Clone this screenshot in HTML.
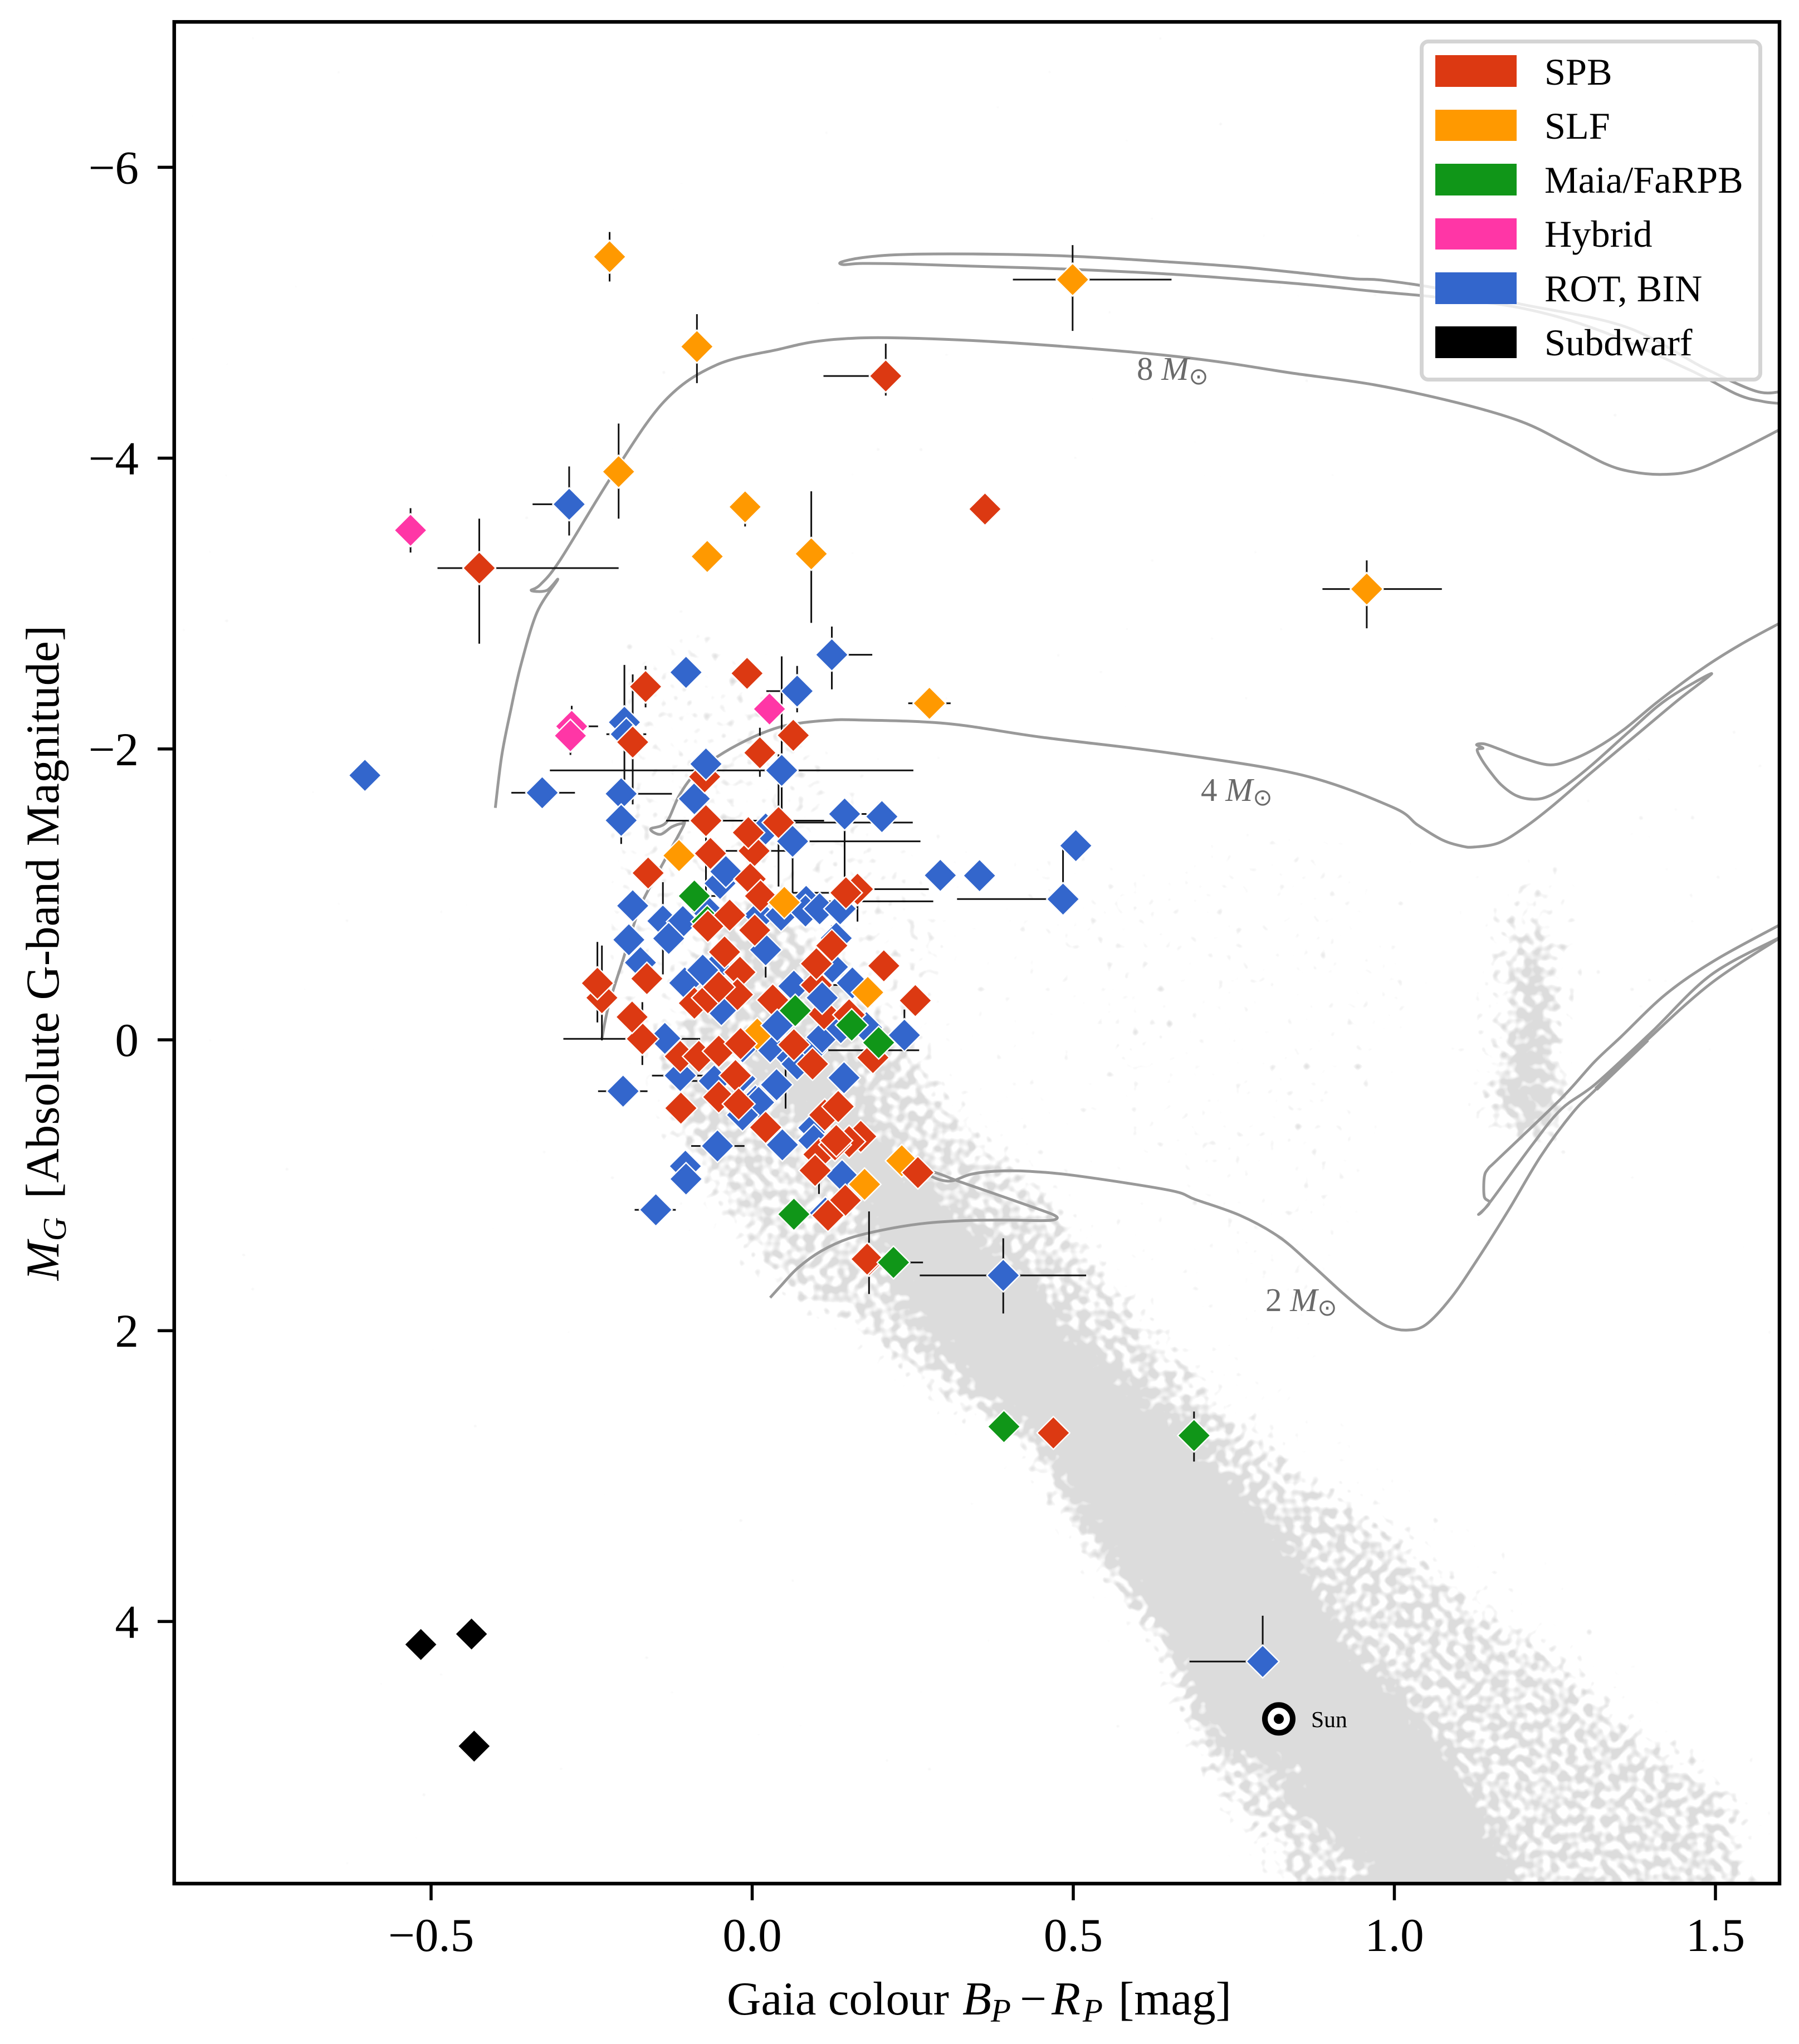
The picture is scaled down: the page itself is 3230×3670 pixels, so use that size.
<!DOCTYPE html>
<html lang="en">
<head>
<meta charset="utf-8">
<title>Gaia colour-magnitude diagram</title>
<style>
html,body{margin:0;padding:0;background:#fff;}
svg{display:block;font-family:"Liberation Serif","DejaVu Serif",serif;}
</style>
</head>
<body>
<svg id="chart" xmlns="http://www.w3.org/2000/svg" width="3230" height="3670" viewBox="0 0 3230 3670">
  <defs>
    <clipPath id="axes-clip"><rect x="313" y="39" width="2882" height="3343"/></clipPath>
    <filter id="speckle" filterUnits="userSpaceOnUse" x="212" y="-60" width="3083" height="3700" color-interpolation-filters="sRGB">
      <feTurbulence type="fractalNoise" baseFrequency="0.065" numOctaves="1" seed="7" result="raw"/>
      <feColorMatrix in="raw" type="matrix" values="0 0 0 0 0  0 0 0 0 0  0 0 0 0 0  1 0 0 0 0" result="noise"/>
      <feGaussianBlur in="SourceGraphic" stdDeviation="24" result="density"/>
      <feComposite in="noise" in2="density" operator="arithmetic" k1="0" k2="1" k3="0.85" k4="-0.8" result="mix"/>
      <feColorMatrix in="mix" type="matrix" values="0 0 0 0 0.863  0 0 0 0 0.863  0 0 0 0 0.863  0 0 0 5 0"/>
    </filter>
  </defs>
  <rect x="0" y="0" width="3230" height="3670" fill="#ffffff"/>
  <g clip-path="url(#axes-clip)">
    <g id="cloud" filter="url(#speckle)"></g>
    <g id="tracks"></g>
    <g id="errors"></g>
    <g id="markers"></g>
    <g id="sun"></g>
  </g>
  <g id="labels" fill="#6a6a6a" font-size="59">
    <text x="2041" y="682">8 <tspan font-style="italic">M</tspan><tspan font-family="DejaVu Sans, sans-serif" font-size="42" dy="8">⊙</tspan></text>
    <text x="2156" y="1438">4 <tspan font-style="italic">M</tspan><tspan font-family="DejaVu Sans, sans-serif" font-size="42" dy="8">⊙</tspan></text>
    <text x="2272" y="2354">2 <tspan font-style="italic">M</tspan><tspan font-family="DejaVu Sans, sans-serif" font-size="42" dy="8">⊙</tspan></text>
  </g>
  <text x="2354" y="3101" font-size="41.7">Sun</text>

  <g>
    <rect x="2552.5" y="74.5" width="608" height="607" rx="12" ry="12" fill="#ffffff" fill-opacity="0.8" stroke="#d4d4d4" stroke-width="7"/>
    <g><rect x="2577" y="99" width="146" height="57" fill="#dc3912"/><text x="2773" y="152" font-size="68.3">SPB</text></g>
    <g><rect x="2577" y="197" width="146" height="56" fill="#ff9900"/><text x="2773" y="249" font-size="68.3">SLF</text></g>
    <g><rect x="2577" y="294" width="146" height="57" fill="#109618"/><text x="2773" y="346" font-size="68.3">Maia/FaRPB</text></g>
    <g><rect x="2577" y="392" width="146" height="56" fill="#ff36a6"/><text x="2773" y="443" font-size="68.3">Hybrid</text></g>
    <g><rect x="2577" y="489" width="146" height="57" fill="#3366cc"/><text x="2773" y="541" font-size="68.3">ROT, BIN</text></g>
    <g><rect x="2577" y="586" width="146" height="57" fill="#000000"/><text x="2773" y="638" font-size="68.3">Subdwarf</text></g>
  </g>

  <rect x="312.8" y="39.3" width="2882.2" height="3342.7" fill="none" stroke="#000" stroke-width="6.5"/>
  <g id="axes" font-size="85"></g>

  <text x="1305" y="3617" font-size="85">Gaia colour <tspan x="1728" font-style="italic">B</tspan><tspan x="1779" font-style="italic" font-size="59" dy="13">P</tspan><tspan x="1831" dy="-13">−</tspan><tspan x="1888" font-style="italic">R</tspan><tspan x="1944" font-style="italic" font-size="59" dy="13">P</tspan><tspan x="2008" dy="-13">[mag]</tspan></text>
  <text transform="translate(105 2299) rotate(-90)" font-size="85"><tspan font-style="italic">M</tspan><tspan font-style="italic" font-size="59" dy="13">G</tspan><tspan x="147" dy="-13">[Absolute G-band Magnitude]</tspan></text>
</svg>

<script>
// ---- axis tick values and labels ----
const xTicks = [-0.5, 0, 0.5, 1, 1.5];
const xTickLabels = ["−0.5", "0.0", "0.5", "1.0", "1.5"];
const yTicks = [-6, -4, -2, 0, 2, 4];
const yTickLabels = ["−6", "−4", "−2", "0", "2", "4"];

// ---- evolution tracks (BP-RP colour, absolute G magnitude) ----
const trackTopColour = [1.6,1.562,1.482,1.36,1.199,1.064,.979,.939,.869,.76,.64,.491,.342,.232,.172,.139,.142,.172,.242,.342,.491,.64,.76,.869,.969,1.064,1.199,1.32,1.461,1.534,1.574,1.6];
const trackTopMag = [-4.455,-4.462,-4.621,-4.903,-5.057,-5.171,-5.225,-5.233,-5.266,-5.315,-5.352,-5.39,-5.404,-5.4,-5.379,-5.349,-5.331,-5.339,-5.335,-5.32,-5.3,-5.268,-5.231,-5.192,-5.147,-5.108,-5.031,-4.877,-4.604,-4.438,-4.39,-4.376];
const track8Colour = [-.4,-.39,-.376,-.36,-.335,-.303,-.32,-.344,-.33,-.299,-.218,-.137,-.056,.043,.093,.143,.212,.342,.491,.64,.74,.839,.969,1.098,1.198,1.268,1.327,1.367,1.417,1.467,1.527,1.6];
const track8Mag = [-1.595,-1.953,-2.267,-2.58,-2.94,-3.163,-3.09,-3.09,-3.13,-3.3,-3.88,-4.39,-4.64,-4.75,-4.798,-4.821,-4.828,-4.809,-4.766,-4.709,-4.654,-4.586,-4.504,-4.381,-4.251,-4.1,-3.964,-3.909,-3.888,-3.916,-4.032,-4.196];
const track4Colour = [-.234,-.223,-.2,-.185,-.17,-.136,-.107,-.11,-.125,-.143,-.158,-.134,-.114,-.09,-.054,-.01,.034,.07,.118,.163,.303,.452,.654,.857,.997,1.036,1.074,1.105,1.125,1.163,1.202,1.245,1.307,1.384,1.442,1.494,1.423,1.365,1.307,1.268,1.241,1.218,1.191,1.167,1.15,1.136,1.129,1.138,1.128,1.14,1.163,1.198,1.241,1.276,1.314,1.357,1.411,1.481,1.539,1.6];
const track4Mag = [-.009,-.245,-.567,-.783,-.959,-1.237,-1.472,-1.487,-1.465,-1.413,-1.45,-1.494,-1.677,-1.824,-1.948,-2.058,-2.139,-2.175,-2.197,-2.2,-2.175,-2.08,-1.97,-1.82,-1.6,-1.478,-1.376,-1.332,-1.326,-1.355,-1.458,-1.604,-1.839,-2.123,-2.337,-2.519,-2.337,-2.117,-1.888,-1.751,-1.677,-1.654,-1.677,-1.751,-1.839,-1.927,-1.994,-2.006,-2.029,-2.035,-2.0,-1.941,-1.891,-1.926,-2.006,-2.132,-2.328,-2.557,-2.718,-2.865];
const track2MainColour = [.028,.045,.071,.107,.151,.204,.266,.332,.399,.456,.474,.47,.443,.377,.323,.284,.279,.297,.314,.341,.381,.434,.509,.65,.69,.76,.82,.869,.919,.959,.989,1.019,1.049,1.088,1.128,1.178,1.228,1.278,1.314,1.392,1.493,1.6];
const track2MainMag = [1.773,1.69,1.569,1.454,1.365,1.307,1.263,1.243,1.24,1.243,1.231,1.205,1.16,1.058,.975,.912,.937,.967,.967,.924,.903,.905,.937,1.035,1.098,1.208,1.354,1.538,1.739,1.886,1.97,1.996,1.959,1.776,1.519,1.17,.8,.5,.34,.008,-.388,-.7];
const track2ReturnColour = [1.6,1.493,1.4,1.314,1.26,1.214,1.148,1.131,1.148,1.14,1.14,1.146,1.163,1.26,1.311,1.353,1.423,1.5,1.6];
const track2ReturnMag = [-.704,-.446,-.051,.301,.477,.726,1.122,1.201,1.122,1.078,.946,.887,.814,.403,.154,-.021,-.315,-.549,-.79];
const track2StubColour = [1.314,1.394];
const track2StubMag = [.339,.0];

// ---- background stellar density outlines ----
const cloudSparseColour = [-.2,-.08,.1,.35,.62,.9,1.0,1.05,.95,.9,1.1,1.4,1.6,1.75,1.75,.83,.72,.65,.55,.42,.28,.12,-.03,-.12,-.22,-.25,-.22];
const cloudSparseMag = [-2.85,-2.95,-2.13,-1.3,-1.25,-1.5,-.7,-.2,.5,2.4,3.2,4.3,5.0,5.4,6.4,6.4,5.2,4.7,3.9,3.2,2.6,2.0,1.6,1.0,.3,-.5,-1.2];
const cloudUpperColour = [-.2,-.08,.1,.3,.25,-.1,-.22];
const cloudUpperMag = [-2.6,-2.8,-2.0,-.8,.4,.8,-.6];
const cloudFieldColour = [.35,1.02,1.1,1.6,1.6,1.46,1.31,1.04,.9,.85,.62];
const cloudFieldMag = [-1.2,-1.5,-1.3,-2.7,-1.47,-.45,-.3,.58,1.5,2.0,.6];
const cloudHaloColour = [-.13,-.1,-.02,.043,.143,.222,.312,.441,.481,.531,.581,.63,.66,.69,.74,.82,.85,1.566,1.527,1.387,1.238,1.138,1.039,.969,.84,.74,.64,.561,.471,.342,.282,.2,.12,.02,-.06];
const cloudHaloMag = [.2,.8,1.3,1.703,1.923,2.216,2.509,2.839,3.242,3.609,3.866,4.122,4.525,4.892,5.258,5.625,6.4,6.4,5.185,4.782,4.195,3.902,3.536,3.316,2.912,2.509,2.069,1.666,1.116,.603,.273,-.1,-.5,-1.0,-.8];
const cloudCoreColour = [.003,.103,.192,.247,.312,.372,.451,.491,.551,.591,.64,.68,.7,.744,.893,.826,.9,.975,.95,1.244,1.118,1.025,.919,.869,.81,.74,.66,.561,.471,.411,.302,.222,.143,.103,.05];
const cloudCoreMag = [.126,.566,1.226,1.776,2.143,2.436,2.692,3.059,3.426,3.719,4.012,4.269,4.525,4.848,5.016,5.167,5.401,5.676,6.4,6.4,5.277,4.635,4.21,3.792,3.426,3.059,2.692,2.326,1.959,1.593,1.226,.86,.493,.126,-.05];
const clumpHaloColour = [1.113,1.136,1.152,1.175,1.249,1.276,1.268,1.264,1.198,1.121];
const clumpHaloMag = [.374,-.3,-.886,-1.12,-1.15,-.593,.286,.667,.696,.55];
const clumpCoreColour = [1.16,1.191,1.194,1.206,1.225,1.237,1.249,1.26,1.252,1.222,1.191,1.163];
const clumpCoreMag = [.433,-.007,-.446,-.74,-.74,-.3,.14,.374,.638,.696,.58,.52];

// ---- ROT, BIN stars drawn below the SPB stars ----
const rotLowColour = [.124,.07,-.199,-.196,.046,-.327,-.204,-.204,.144,.084,-.139,.021,-.112,.052,-.201,-.054,-.15,-.059,.237,.092,.391,.795,-.285,.484,
  -.103,-.09,.202,.021,-.05,-.041,.293,.354,.504,-.186,-.108,-.07,.012,.045,.083,.105,.137,-.192,-.13,.131,-.174,-.057,-.105,-.048,.065,.156,-.136,.109,.138,.178,-.015,.028,-.019,.07,.143,.005,.01,-.015,.096,.096,.047,-.104,-.103,.14,.114,.125,-.603];
const rotLowMag = [-2.648,-2.398,-2.184,-2.102,-1.853,-1.699,-1.692,-1.509,-1.553,-.952,-.817,-.619,.246,.078,.353,.73,1.169,.283,-.032,.072,1.62,4.275,-3.683,-.968,
  -2.527,-1.658,-1.535,-1.45,-1.076,-1.157,-1.131,-1.129,-1.335,-.922,-.813,-.886,-.857,-.857,-.886,-.901,-.901,-.688,-.697,-.699,-.531,-.494,-.391,-.208,-.369,-.391,-.01,-.018,-.084,-.084,.048,.048,.268,.166,.261,.422,.43,.517,.605,.693,.722,.869,.957,.935,1.191,-.501,-1.819];
const rotLowErrLeft  = [0,.048,0,.031,.361,.048,0,0,0,.021,0,0,.044,0,.039,.041,.033,.04,0,.087,.13,.114,.057,.165];
const rotLowErrRight = [.063,0,0,.031,.205,.051,.079,0,.034,.198,.045,0,.04,0,.038,.042,.031,0,0,.168,.129,0,0,0];
const rotLowErrUp    = [.194,.173,.394,0,.784,0,0,0,0,0,.267,0,0,0,0,0,0,0,.176,0,.255,.315,.26,.345];
const rotLowErrDown  = [.238,.146,.397,0,.278,0,0,.162,.433,0,.367,.191,0,.395,0,0,0,0,0,0,.262,0,.215,0];

// ---- SLF stars drawn below the SPB stars ----
const slfLowColour = [.008,.233];
const slfLowMag = [-.04,.832];

// ---- Maia / FaRPB stars drawn below the SPB stars ----
const maiaLowColour = [-.07];
const maiaLowMag = [-.813];

// ---- SPB stars ----
const spbColour = [.208,-.425,-.166,-.186,.012,-.072,.041,.164,.146,.003,-.234,-.241,-.171,.124,.104,.182,.1,
  .179,-.008,.064,-.074,-.006,-.065,-.162,-.003,.013,-.035,-.069,.004,-.043,.1,-.019,.205,-.164,-.09,-.069,-.023,-.052,.032,.112,.151,.254,-.187,-.112,-.083,-.052,-.018,.065,.094,.188,-.026,-.052,-.021,-.111,.021,.113,.134,.169,.151,.129,.131,.098,.258,.145,.118,.3625,.469];
const spbMag = [-4.565,-3.244,-2.429,-2.047,-1.974,-1.507,-1.494,-1.036,-1.011,-1.299,-.289,-.389,-.007,-.648,.788,1.513,-.377,
  1.508,-2.52,-2.094,-1.809,-1.425,-1.282,-1.147,-1.106,-.989,-.857,-.781,-.754,-.604,-.523,-.465,-.509,-.421,-.252,-.289,-.311,-.362,-.274,-.179,-.172,-.27,-.157,.114,.114,.078,.026,.034,.166,.122,.246,.393,.441,.47,.602,.517,.459,.664,.7,.722,.693,.898,.913,1.104,1.207,-3.65,2.703];
const spbErrLeft  = [.097,.065,0,0,0,.062,0,0,.083,.044,0,0,.123,0,0,0,.048];
const spbErrRight = [0,.217,0,0,0,.184,.209,.111,0,.049,0,0,.09,0,0,0,.051];
const spbErrUp    = [.222,.34,.142,.466,.172,0,.469,0,0,0,.359,.284,.252,.139,.168,.333,0];
const spbErrDown  = [.135,.52,.143,.428,.165,.533,.44,.223,0,0,.293,.269,.18,.176,.272,.235,0];

// ---- ROT, BIN stars drawn above the SPB stars ----
const rotHighColour = [.063,-.072,.109,.039,-.077,.038];
const rotHighMag = [-1.365,-1.897,-.289,-.098,-.479,.309];
const rotHighErrLeft  = [0];
const rotHighErrRight = [.199];
const rotHighErrUp    = [0];
const rotHighErrDown  = [.355];

// ---- SLF stars drawn above the SPB stars ----
const slfHighColour = [.499,-.222,-.086,-.208,-.011,.092,.957,.276,-.07,-.114,.05,.18,.175];
const slfHighMag = [-5.228,-5.385,-4.767,-3.907,-3.665,-3.342,-3.1,-2.314,-3.324,-1.267,-.945,-.326,.994];
const slfHighErrLeft  = [.093,0,0,0,0,0,.069,.033];
const slfHighErrRight = [.154,0,0,0,0,0,.117,.033];
const slfHighErrUp    = [.237,.17,.223,.331,0,.43,.197,0];
const slfHighErrDown  = [.353,.17,.251,.323,.135,.475,.27,0];

// ---- Maia / FaRPB stars drawn above the SPB stars ----
const maiaHighColour = [-.09,.22,.688,.067,.155,.197,.065,.392];
const maiaHighMag = [-.989,1.531,2.721,-.201,-.101,.019,1.199,2.66];
const maiaHighErrLeft  = [.026,0,0];
const maiaHighErrRight = [.033,.046,0];
const maiaHighErrUp    = [0,0,.165];
const maiaHighErrDown  = [0,0,.179];

// ---- Hybrid stars ----
const hybridColour = [-.281,-.283,-.532,.027];
const hybridMag = [-2.156,-2.091,-3.504,-2.275];
const hybridErrLeft  = [0,0,0];
const hybridErrRight = [.041,0,0];
const hybridErrUp    = [.141,.1,.152];
const hybridErrDown  = [0,.132,.153];

// ---- Subdwarf stars ----
const subdwarfColour = [-.516,-.437,-.433];
const subdwarfMag = [4.158,4.086,4.857];

// ---- Sun ----
const sunColour = [0.82];
const sunMag = [4.67];

// ---- axis functions ----
const scaleX = v => 1350.5 + 1153 * v;
const scaleY = v => 1867 + 261.1 * v;

const NS = 'http://www.w3.org/2000/svg';
function make(tag, parent) {
  const el = document.createElementNS(NS, tag);
  parent.appendChild(el);
  return el;
}

function smoothPath(xs, ys) {
  const p = xs.map((x, i) => [scaleX(x), scaleY(ys[i])]);
  let d = 'M' + p[0][0].toFixed(1) + ' ' + p[0][1].toFixed(1);
  for (let i = 0; i < p.length - 1; i++) {
    const a = p[Math.max(i - 1, 0)], b = p[i], c = p[i + 1], e = p[Math.min(i + 2, p.length - 1)];
    const c1x = b[0] + (c[0] - a[0]) / 6, c1y = b[1] + (c[1] - a[1]) / 6;
    const c2x = c[0] - (e[0] - b[0]) / 6, c2y = c[1] - (e[1] - b[1]) / 6;
    d += 'C' + c1x.toFixed(1) + ' ' + c1y.toFixed(1) + ' ' + c2x.toFixed(1) + ' ' + c2y.toFixed(1) + ' ' + c[0].toFixed(1) + ' ' + c[1].toFixed(1);
  }
  return d;
}

// ---- background cloud ----
const cloudGroup = document.getElementById('cloud');
function cloudShape(xs, ys, density) {
  const poly = make('polygon', cloudGroup);
  poly.setAttribute('points', xs.map((x, i) => scaleX(x).toFixed(1) + ',' + scaleY(ys[i]).toFixed(1)).join(' '));
  poly.setAttribute('fill', '#000');
  poly.setAttribute('fill-opacity', density);
  
  
}
cloudShape(cloudSparseColour, cloudSparseMag, 0.1);
cloudShape(cloudUpperColour, cloudUpperMag, 0.14);
cloudShape(cloudFieldColour, cloudFieldMag, 0.05);
cloudShape(cloudHaloColour, cloudHaloMag, 0.42);
cloudShape(clumpHaloColour, clumpHaloMag, 0.25);
cloudShape(clumpCoreColour, clumpCoreMag, 0.62);
cloudShape(cloudCoreColour, cloudCoreMag, 1);

// ---- tracks ----
const trackGroup = document.getElementById('tracks');
function track(xs, ys, width) {
  const path = make('path', trackGroup);
  path.setAttribute('d', smoothPath(xs, ys));
  path.setAttribute('fill', 'none');
  path.setAttribute('stroke', '#999999');
  path.setAttribute('stroke-width', width);
  path.setAttribute('stroke-linejoin', 'round');
  
  
}
track(trackTopColour, trackTopMag, 5);
track(track8Colour, track8Mag, 5);
track(track4Colour, track4Mag, 5);
track(track2MainColour, track2MainMag, 5);
track(track2ReturnColour, track2ReturnMag, 5);
track(track2StubColour, track2StubMag, 8);

// ---- stars ----
const seriesList = [
  {name: 'rot-bin', fill: '#3366cc', xs: rotLowColour, ys: rotLowMag, l: rotLowErrLeft, r: rotLowErrRight, u: rotLowErrUp, d: rotLowErrDown},
  {name: 'slf', fill: '#ff9900', xs: slfLowColour, ys: slfLowMag, l: [], r: [], u: [], d: []},
  {name: 'maia', fill: '#109618', xs: maiaLowColour, ys: maiaLowMag, l: [], r: [], u: [], d: []},
  {name: 'spb', fill: '#dc3912', xs: spbColour, ys: spbMag, l: spbErrLeft, r: spbErrRight, u: spbErrUp, d: spbErrDown},
  {name: 'rot-bin', fill: '#3366cc', xs: rotHighColour, ys: rotHighMag, l: rotHighErrLeft, r: rotHighErrRight, u: rotHighErrUp, d: rotHighErrDown},
  {name: 'slf', fill: '#ff9900', xs: slfHighColour, ys: slfHighMag, l: slfHighErrLeft, r: slfHighErrRight, u: slfHighErrUp, d: slfHighErrDown},
  {name: 'maia', fill: '#109618', xs: maiaHighColour, ys: maiaHighMag, l: maiaHighErrLeft, r: maiaHighErrRight, u: maiaHighErrUp, d: maiaHighErrDown},
  {name: 'hybrid', fill: '#ff36a6', xs: hybridColour, ys: hybridMag, l: hybridErrLeft, r: hybridErrRight, u: hybridErrUp, d: hybridErrDown},
  {name: 'subdwarf', fill: '#000000', xs: subdwarfColour, ys: subdwarfMag, l: [], r: [], u: [], d: []}
];

const errorGroup = document.getElementById('errors');
const markerGroup = document.getElementById('markers');
function errLine(x1, y1, x2, y2) {
  const line = make('line', errorGroup);
  line.setAttribute('x1', scaleX(x1).toFixed(1));
  line.setAttribute('y1', scaleY(y1).toFixed(1));
  line.setAttribute('x2', scaleX(x2).toFixed(1));
  line.setAttribute('y2', scaleY(y2).toFixed(1));
  line.setAttribute('stroke', '#111111');
  line.setAttribute('stroke-width', '3');
  
  
}
const HALF = 29.5;
seriesList.forEach(s => {
  s.xs.forEach((x, i) => {
    const y = s.ys[i];
    if (s.l[i]) errLine(x - s.l[i], y, x, y);
    if (s.r[i]) errLine(x, y, x + s.r[i], y);
    if (s.u[i]) errLine(x, y - s.u[i], x, y);
    if (s.d[i]) errLine(x, y, x, y + s.d[i]);
    const cx = scaleX(x), cy = scaleY(y);
    const diamond = make('polygon', markerGroup);
    diamond.setAttribute('points', (cx - HALF).toFixed(1) + ',' + cy.toFixed(1) + ' ' + cx.toFixed(1) + ',' + (cy - HALF).toFixed(1) + ' ' + (cx + HALF).toFixed(1) + ',' + cy.toFixed(1) + ' ' + cx.toFixed(1) + ',' + (cy + HALF).toFixed(1));
    diamond.setAttribute('fill', s.fill);
    diamond.setAttribute('stroke', '#ffffff');
    diamond.setAttribute('stroke-width', '2.4');
    
    
  });
});

// ---- Sun ----
const sunGroup = document.getElementById('sun');
sunColour.forEach((x, i) => {
  const ring = make('circle', sunGroup);
  ring.setAttribute('cx', scaleX(x).toFixed(1));
  ring.setAttribute('cy', scaleY(sunMag[i]).toFixed(1));
  ring.setAttribute('r', '25');
  ring.setAttribute('fill', '#ffffff');
  ring.setAttribute('stroke', '#000000');
  ring.setAttribute('stroke-width', '10');
  
  
  const dot = make('circle', sunGroup);
  dot.setAttribute('cx', scaleX(x).toFixed(1));
  dot.setAttribute('cy', scaleY(sunMag[i]).toFixed(1));
  dot.setAttribute('r', '9');
  dot.setAttribute('fill', '#000000');
  
  
});

// ---- axes ----
const axesGroup = document.getElementById('axes');
xTicks.forEach((v, i) => {
  const tick = make('line', axesGroup);
  tick.setAttribute('x1', scaleX(v).toFixed(1));
  tick.setAttribute('x2', scaleX(v).toFixed(1));
  tick.setAttribute('y1', '3382');
  tick.setAttribute('y2', '3412');
  tick.setAttribute('stroke', '#000');
  tick.setAttribute('stroke-width', '5.5');
  
  
  const label = make('text', axesGroup);
  label.setAttribute('x', scaleX(v).toFixed(1));
  label.setAttribute('y', '3503');
  label.setAttribute('text-anchor', 'middle');
  label.textContent = xTickLabels[i];
  
  
});
yTicks.forEach((v, i) => {
  const tick = make('line', axesGroup);
  tick.setAttribute('x1', '283');
  tick.setAttribute('x2', '312.8');
  tick.setAttribute('y1', scaleY(v).toFixed(1));
  tick.setAttribute('y2', scaleY(v).toFixed(1));
  tick.setAttribute('stroke', '#000');
  tick.setAttribute('stroke-width', '5.5');
  
  
  const label = make('text', axesGroup);
  label.setAttribute('x', '249');
  label.setAttribute('y', (scaleY(v) + 29).toFixed(1));
  label.setAttribute('text-anchor', 'end');
  label.textContent = yTickLabels[i];
  
  
});
</script>
</body>
</html>
